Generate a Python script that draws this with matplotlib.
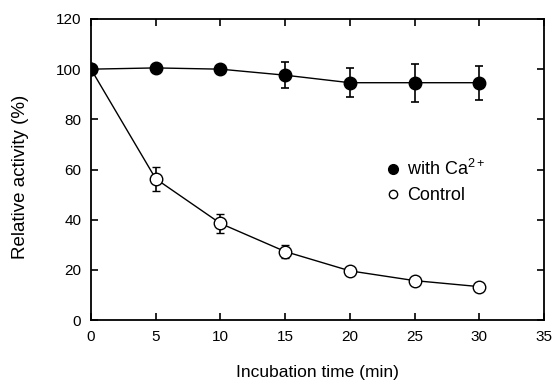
import matplotlib
matplotlib.use("Agg")
import matplotlib.pyplot as plt
from matplotlib.lines import Line2D

# Incubation time (min)
time = [0, 5, 10, 15, 20, 25, 30]

# Relative activity (%)
ca_mean = [100, 100.5, 100, 97.6, 94.6, 94.6, 94.6]
ca_err = [0, 0, 0, 5.2, 5.7, 7.6, 6.8]
ctrl_mean = [100, 56.3, 38.5, 27.3, 19.6, 15.7, 13.3]
ctrl_err = [0, 4.8, 3.9, 2.6, 0, 0, 0]

plt.rcParams["font.family"] = ["Liberation Sans", "DejaVu Sans"]
plt.rcParams["mathtext.fontset"] = "custom"
plt.rcParams["mathtext.rm"] = "Liberation Sans"

fig = plt.figure(figsize=(5.54, 3.85), dpi=100)
ax = fig.add_axes([91 / 554, 1 - 320 / 385, 453 / 554, 301 / 385])

ax.errorbar(time, ctrl_mean, yerr=ctrl_err, color="black", lw=1.0, marker="o",
            ms=9, mfc="white", mec="black", mew=1.0, capsize=3, elinewidth=1.2,
            capthick=1.2, zorder=3)
ax.errorbar(time, ca_mean, yerr=ca_err, color="black", lw=1.0, marker="o",
            ms=9, mfc="black", mec="black", capsize=3, elinewidth=1.2,
            capthick=1.2, zorder=4)

ax.set_xlim(0, 35)
ax.set_ylim(0, 120)
ax.set_xticks(range(0, 36, 5))
ax.set_yticks(range(0, 121, 20))
ax.tick_params(direction="in", length=5, width=1.2, labelsize=11, pad=7,
               top=True, right=True)
for s in ax.spines.values():
    s.set_linewidth(1.3)
ax.set_xlabel("Incubation time (min)", fontsize=12.5, labelpad=15)
ax.set_ylabel("Relative activity (%)", fontsize=13.5)
ax.yaxis.set_label_coords(-0.137, 0.475)

handles = [
    Line2D([], [], ls="none", marker="o", ms=7, mfc="black", mec="black"),
    Line2D([], [], ls="none", marker="o", ms=6, mfc="white", mec="black", mew=1.0),
]
ax.legend(handles, [r"with Ca$\mathregular{^{2+}}$", "Control"], loc="center left",
          bbox_to_anchor=(0.61, 0.46), frameon=False, fontsize=13,
          handletextpad=0.3, labelspacing=0.45, handlelength=1.0)

fig.savefig("out.png", dpi=100)
